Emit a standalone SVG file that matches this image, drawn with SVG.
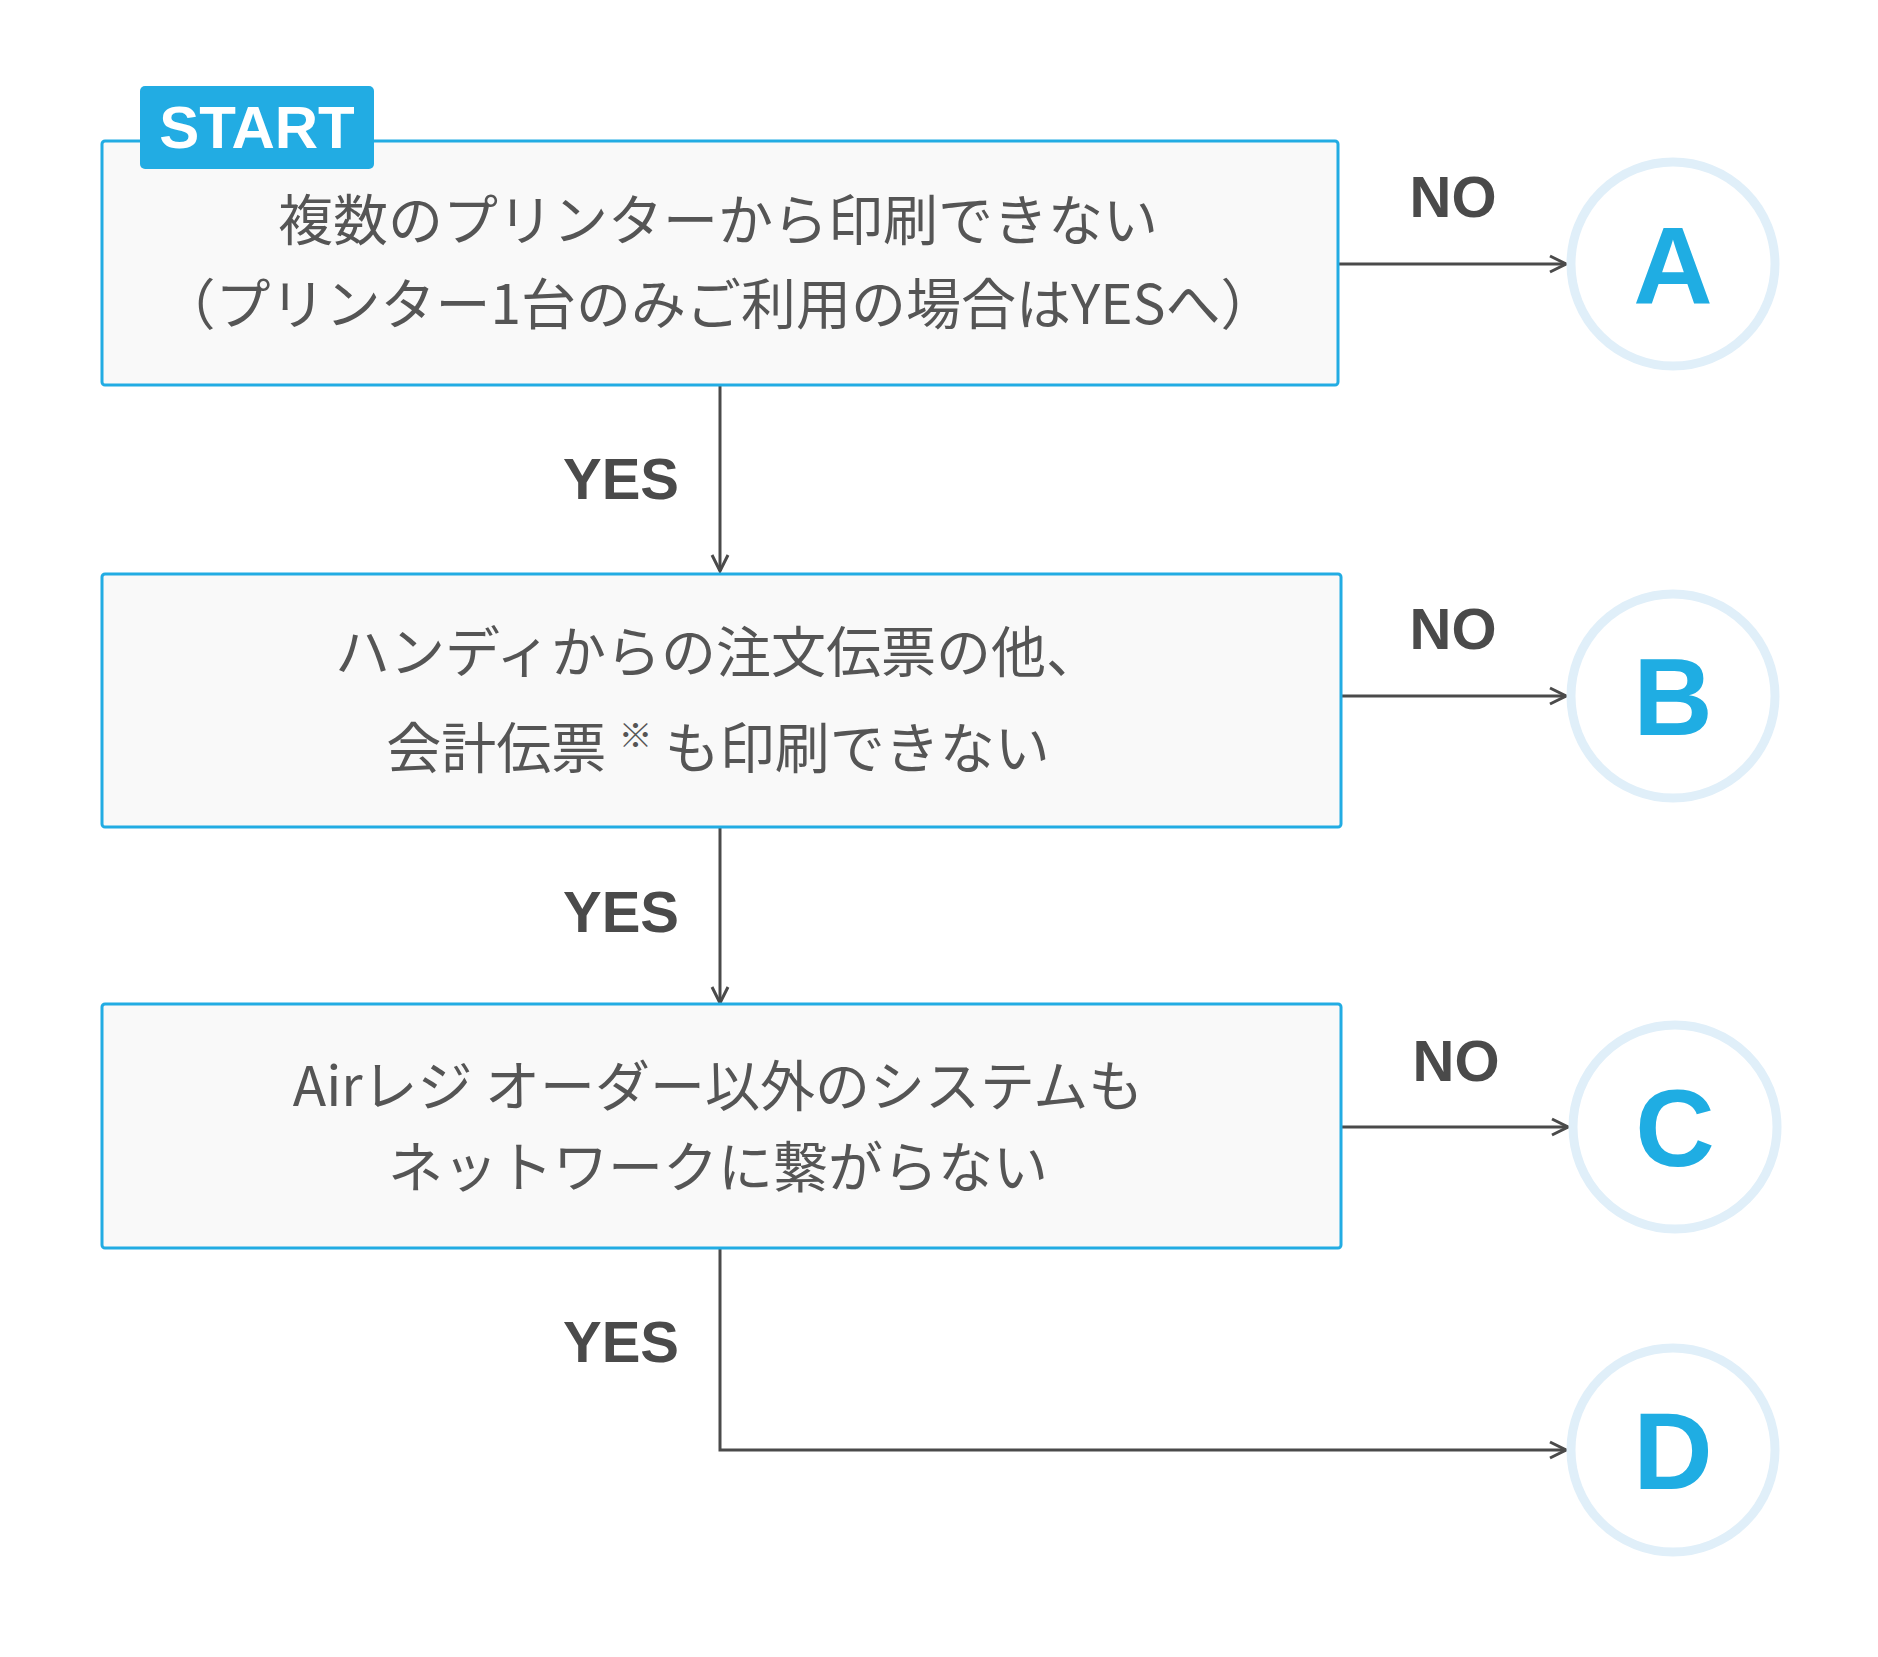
<svg xmlns="http://www.w3.org/2000/svg" width="1878" height="1657" viewBox="0 0 1878 1657">
<defs>
<style>
.box{fill:#f9f9f9;stroke:#22ace3;stroke-width:3}
.t{font-family:"Noto Sans CJK JP","Noto Sans",sans-serif;font-size:55px;fill:#555;text-anchor:middle}
.lb{font-family:"Liberation Sans",Arial,sans-serif;font-weight:bold;font-size:58px;fill:#4a4a4a;text-anchor:middle}
.c{fill:#fff;stroke:#e0eff9;stroke-width:9}
.ct{font-family:"Liberation Sans",Arial,sans-serif;font-weight:bold;font-size:110px;fill:#1fade3;text-anchor:middle}
.ln{fill:none;stroke:#4a4a4a;stroke-width:3}
</style>
<marker id="ah" viewBox="0 0 20 20" refX="18" refY="10" markerWidth="20" markerHeight="20" markerUnits="userSpaceOnUse" orient="auto">
<path d="M2 2 L18 10 L2 18" fill="none" stroke="#4a4a4a" stroke-width="3"/>
</marker>
</defs>
<rect width="1878" height="1657" fill="#fff"/>
<g id="connectors">
<line class="ln" x1="1338" y1="264" x2="1566" y2="264" marker-end="url(#ah)"/>
<line class="ln" x1="720" y1="385" x2="720" y2="571" marker-end="url(#ah)"/>
<line class="ln" x1="1341" y1="696" x2="1566" y2="696" marker-end="url(#ah)"/>
<line class="ln" x1="720" y1="820" x2="720" y2="1003" marker-end="url(#ah)"/>
<line class="ln" x1="1341" y1="1127" x2="1568" y2="1127" marker-end="url(#ah)"/>
<polyline class="ln" points="720,1248 720,1450 1566,1450" marker-end="url(#ah)"/>
<text class="lb" x="1453" y="217">NO</text>
<text class="lb" x="621" y="499">YES</text>
<text class="lb" x="1453" y="649">NO</text>
<text class="lb" x="621" y="932">YES</text>
<text class="lb" x="1456" y="1081">NO</text>
<text class="lb" x="621" y="1362">YES</text>
</g>
<g id="n1">
<rect class="box" x="102" y="141" width="1236" height="244" rx="3"/>
<rect x="140" y="86" width="234" height="83" rx="5" fill="#22ace3"/>
<text x="257" y="148" font-family="Liberation Sans,Arial,sans-serif" font-weight="bold" font-size="60" fill="#fff" text-anchor="middle">START</text>
<text class="t" x="718" y="240">複数のプリンターから印刷できない</text>
<text class="t" x="718" y="324">（プリンター1台のみご利用の場合はYESへ）</text>
</g>
<g id="n2">
<rect class="box" x="102" y="574" width="1239" height="253" rx="3"/>
<text class="t" x="718" y="672">ハンディからの注文伝票の他、</text>
<text class="t" x="718" y="768">会計伝票 <tspan font-size="34" dy="-20">※</tspan><tspan dy="20"> も印刷できない</tspan></text>
</g>
<g id="n3">
<rect class="box" x="102" y="1004" width="1239" height="244" rx="3"/>
<text class="t" x="718" y="1106">Airレジ オーダー以外のシステムも</text>
<text class="t" x="718" y="1187">ネットワークに繋がらない</text>
</g>
<g id="A"><circle class="c" cx="1673" cy="264" r="102"/><text class="ct" x="1673" y="303">A</text></g>
<g id="B"><circle class="c" cx="1673" cy="696" r="102"/><text class="ct" x="1673" y="735">B</text></g>
<g id="C"><circle class="c" cx="1675" cy="1127" r="102"/><text class="ct" x="1675" y="1166">C</text></g>
<g id="D"><circle class="c" cx="1673" cy="1450" r="102"/><text class="ct" x="1673" y="1489">D</text></g>
</svg>
